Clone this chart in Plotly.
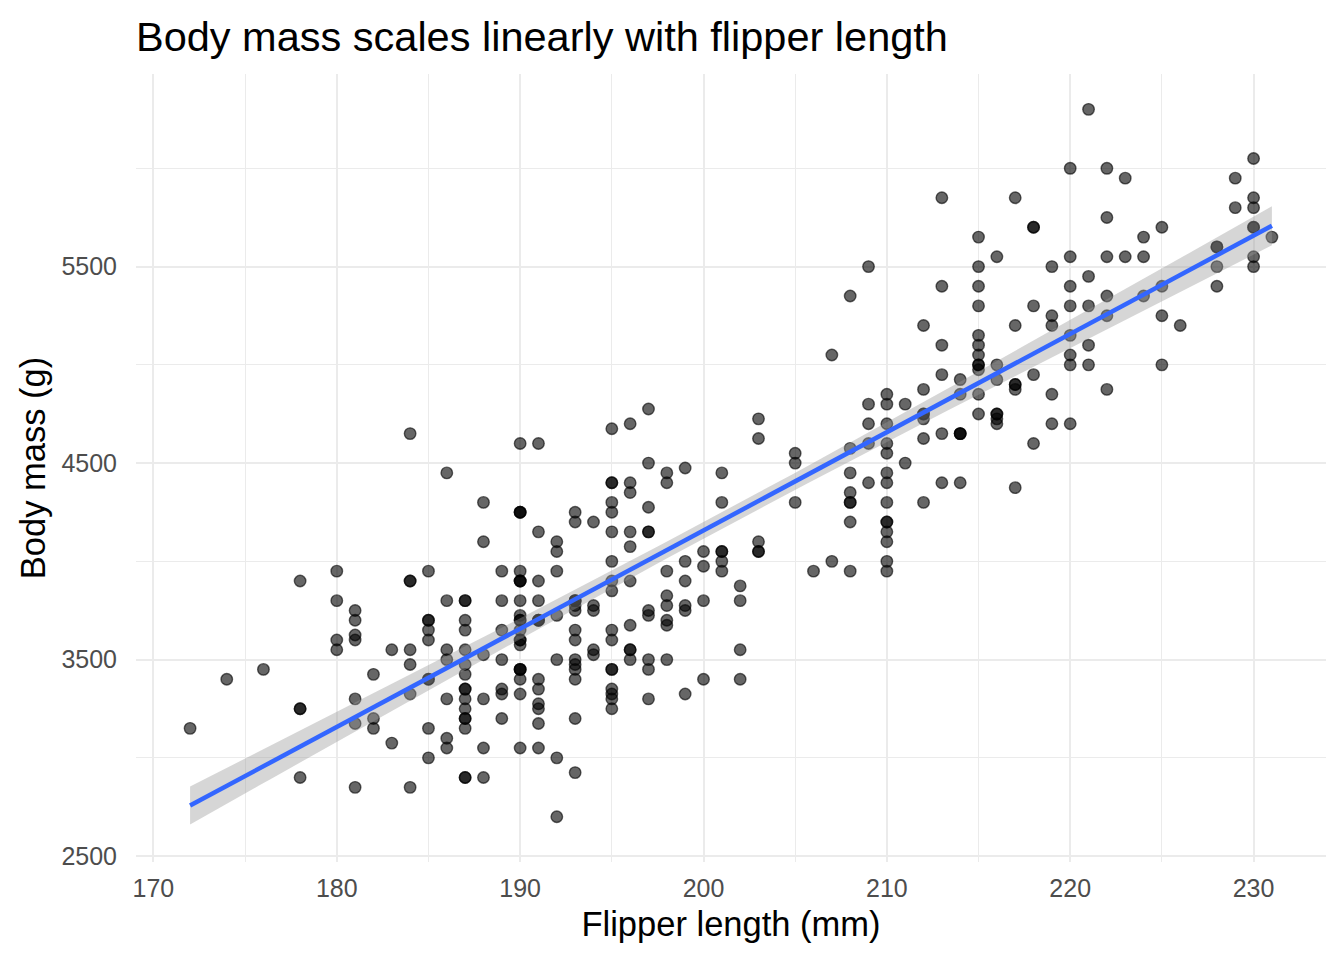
import numpy as np
import plotly.graph_objects as go

# Palmer penguins: flipper length (mm) and body mass (g)
adelie_flipper = [
    181, 186, 195, 193, 190, 181, 195, 193, 190, 186, 182, 191, 198, 185, 195, 197, 184, 194,
    174, 180, 189, 185, 180, 187, 183, 187, 172, 180, 178, 178, 188, 184, 195, 196, 190, 180,
    181, 184, 182, 195, 186, 196, 185, 190, 182, 190, 191, 186, 188, 190, 200, 187, 191, 186,
    193, 181, 194, 185, 195, 185, 192, 184, 192, 195, 188, 190, 198, 190, 190, 196, 197, 190,
    195, 191, 184, 187, 195, 189, 196, 187, 193, 191, 194, 190, 189, 189, 190, 202, 205, 185,
    186, 187, 208, 190, 196, 178, 192, 192, 203, 183, 190, 193, 184, 199, 190, 181, 197, 198,
    191, 193, 197, 191, 196, 188, 199, 189, 189, 187, 198, 176, 202, 186, 199, 191, 195, 191,
    210, 190, 197, 193, 199, 187, 190, 191, 200, 185, 193, 193, 187, 188, 190, 192, 185, 190,
    184, 195, 193, 187, 201,
]
adelie_mass = [
    3750, 3800, 3250, 3450, 3650, 3625, 4675, 3475, 4250, 3300, 3200, 3800, 4400, 3700, 3450, 4500, 3325, 4200,
    3400, 3600, 3800, 3950, 3800, 3800, 3550, 3200, 3150, 3950, 3250, 3900, 3300, 3900, 3325, 4150, 3950, 3550,
    3300, 4650, 3150, 3900, 3100, 4400, 3000, 4600, 3425, 3450, 4150, 3500, 4300, 3450, 4050, 2900, 3700, 3550,
    3800, 2850, 3750, 3150, 4400, 3600, 4050, 2850, 3950, 3350, 4100, 3050, 4450, 3600, 3900, 3550, 4150, 3700,
    4250, 3700, 3900, 3550, 4000, 3200, 4700, 3800, 4200, 3350, 3550, 3800, 3500, 3950, 3600, 3550, 4300, 3400,
    4450, 3300, 4300, 3700, 4350, 2900, 4100, 3725, 4725, 3075, 4250, 2925, 3550, 3750, 3900, 3175, 4775, 3825,
    4600, 3200, 4275, 3900, 4075, 2900, 3775, 3350, 3325, 3150, 3500, 3450, 3875, 3050, 4000, 3275, 4300, 3050,
    4000, 3325, 3500, 3500, 4475, 3425, 3900, 3175, 3975, 3400, 4250, 3400, 3475, 3050, 3725, 3000, 3650, 4250,
    3475, 3450, 3750, 3700, 4000,
]
chinstrap_flipper = [
    192, 196, 193, 188, 197, 198, 178, 197, 195, 198, 193, 194, 185, 201, 190, 201, 197, 181,
    190, 195, 181, 191, 187, 193, 195, 197, 200, 200, 191, 205, 187, 201, 187, 203, 195, 199,
    195, 210, 192, 205, 210, 187, 196, 196, 196, 201, 190, 212, 187, 198, 199, 201, 193, 203,
    187, 197, 191, 203, 202, 194, 206, 189, 195, 207, 202, 193, 210, 198,
]
chinstrap_mass = [
    3500, 3900, 3650, 3525, 3725, 3950, 3250, 3750, 4150, 3700, 3800, 3775, 3700, 4050, 3575, 4050, 3300, 3700,
    3450, 4400, 3600, 3400, 2900, 3800, 3300, 4150, 3400, 3800, 3700, 4550, 3200, 4300, 3350, 4100, 3600, 3900,
    3850, 4800, 2700, 4500, 3950, 3650, 3550, 3500, 3675, 4450, 3400, 4300, 3250, 3675, 3325, 3950, 3600, 4050,
    3350, 3450, 3250, 4050, 3800, 3525, 3950, 3650, 3650, 4000, 3400, 3775, 4100, 3775,
]
gentoo_flipper = [
    211, 230, 210, 218, 215, 210, 211, 219, 209, 215, 214, 216, 214, 213, 210, 217, 210, 221,
    209, 222, 218, 215, 213, 215, 215, 215, 215, 210, 220, 222, 209, 207, 230, 220, 220, 213,
    219, 208, 208, 208, 225, 210, 216, 222, 217, 210, 225, 213, 215, 210, 220, 210, 225, 217,
    220, 208, 220, 208, 224, 208, 221, 214, 231, 219, 230, 214, 229, 220, 223, 216, 221, 221,
    217, 216, 230, 209, 220, 215, 223, 212, 221, 212, 224, 212, 228, 218, 218, 212, 230, 218,
    228, 212, 224, 214, 226, 216, 222, 203, 225, 219, 228, 215, 228, 216, 215, 210, 219, 208,
    209, 216, 229, 213, 230, 217, 230, 217, 222, 214, 215, 222, 212, 213,
]
gentoo_mass = [
    4500, 5700, 4450, 5700, 5400, 4550, 4800, 5200, 4400, 5150, 4650, 5550, 4650, 5850, 4200, 5850, 4150, 6300,
    4800, 5350, 5700, 5000, 4400, 5050, 5000, 5100, 5650, 4600, 5550, 5250, 4700, 5050, 6050, 5150, 5400, 4950,
    5250, 4350, 5350, 3950, 5700, 4300, 4750, 5550, 4900, 4200, 5400, 5100, 5300, 4850, 5300, 4400, 5000, 4900,
    5050, 4300, 5000, 4450, 5550, 4200, 5300, 4400, 5650, 4700, 5700, 4650, 5800, 4700, 5550, 4750, 5000, 5100,
    5200, 4700, 5800, 4600, 6000, 4750, 5950, 4625, 5450, 4725, 5350, 4750, 5600, 4600, 5300, 4875, 5550, 4950,
    5400, 4750, 5650, 4850, 5200, 4925, 4875, 4625, 5250, 4850, 5600, 4975, 5500, 4725, 5500, 4700, 5500, 4575,
    5500, 5000, 5950, 4650, 5500, 4375, 5850, 4875, 6000, 4925, 4850, 5750, 5200, 5400,
]

flipper = np.array(adelie_flipper + chinstrap_flipper + gentoo_flipper, dtype=float)
mass = np.array(adelie_mass + chinstrap_mass + gentoo_mass, dtype=float)

# linear fit with 95% confidence band (like geom_smooth(method = "lm"))
n = len(flipper)
slope, intercept = np.polyfit(flipper, mass, 1)
resid = mass - (intercept + slope * flipper)
s = np.sqrt(np.sum(resid ** 2) / (n - 2))
xbar = flipper.mean()
sxx = np.sum((flipper - xbar) ** 2)
t_crit = 1.967
fit_x = np.linspace(flipper.min(), flipper.max(), 80)
fit_y = intercept + slope * fit_x
half = t_crit * s * np.sqrt(1 / n + (fit_x - xbar) ** 2 / sxx)

FONT = "Liberation Sans, Arial, Helvetica, sans-serif"
GRID = "#EBEBEB"

fig = go.Figure()

fig.add_trace(go.Scatter(
    x=flipper, y=mass,
    mode="markers",
    marker=dict(size=11.5, color="rgba(0,0,0,0.6)",
                line=dict(width=1.4, color="rgba(0,0,0,0.6)")),
    hoverinfo="x+y",
))

# ribbon
fig.add_trace(go.Scatter(
    x=np.concatenate([fit_x, fit_x[::-1]]),
    y=np.concatenate([fit_y + half, (fit_y - half)[::-1]]),
    fill="toself", fillcolor="rgba(153,153,153,0.4)",
    line=dict(width=0), mode="lines", hoverinfo="skip",
))

fig.add_trace(go.Scatter(
    x=fit_x, y=fit_y, mode="lines",
    line=dict(color="#3366FF", width=4.5),
    hoverinfo="skip",
))

fig.update_layout(
    width=1344, height=960,
    margin=dict(l=136, r=18, t=74, b=98),
    paper_bgcolor="white", plot_bgcolor="white",
    showlegend=False,
    font=dict(family=FONT, color="black"),
    title=dict(
        text="Body mass scales linearly with flipper length",
        font=dict(size=41.5, color="black"),
        xref="paper", x=0, xanchor="left",
        yref="container", y=1 - 36 / 960, yanchor="middle",
    ),
)

fig.update_xaxes(
    range=[169.05, 233.95],
    tickmode="linear", tick0=170, dtick=10,
    showgrid=True, gridcolor=GRID, gridwidth=2.2,
    minor=dict(tickmode="linear", tick0=175, dtick=10, showgrid=True, gridcolor=GRID, gridwidth=1.1),
    zeroline=False, showline=False, ticks="",
    tickfont=dict(size=25, color="#4D4D4D"),
    ticklabelstandoff=9,
    title=dict(text="Flipper length (mm)", font=dict(size=34.5, color="black"), standoff=10),
    automargin=False,
)
fig.update_yaxes(
    range=[2470, 6480],
    tickmode="linear", tick0=2500, dtick=1000,
    showgrid=True, gridcolor=GRID, gridwidth=2.2,
    minor=dict(tickmode="linear", tick0=3000, dtick=1000, showgrid=True, gridcolor=GRID, gridwidth=1.1),
    zeroline=False, showline=False, ticks="",
    tickfont=dict(size=25, color="#4D4D4D"),
    ticklabelstandoff=18,
    title=dict(text="Body mass (g)", font=dict(size=34.5, color="black"), standoff=5),
    automargin=False,
)

fig.write_html("out.html", config={"displayModeBar": False},
               post_script="document.body.style.margin='0';")
